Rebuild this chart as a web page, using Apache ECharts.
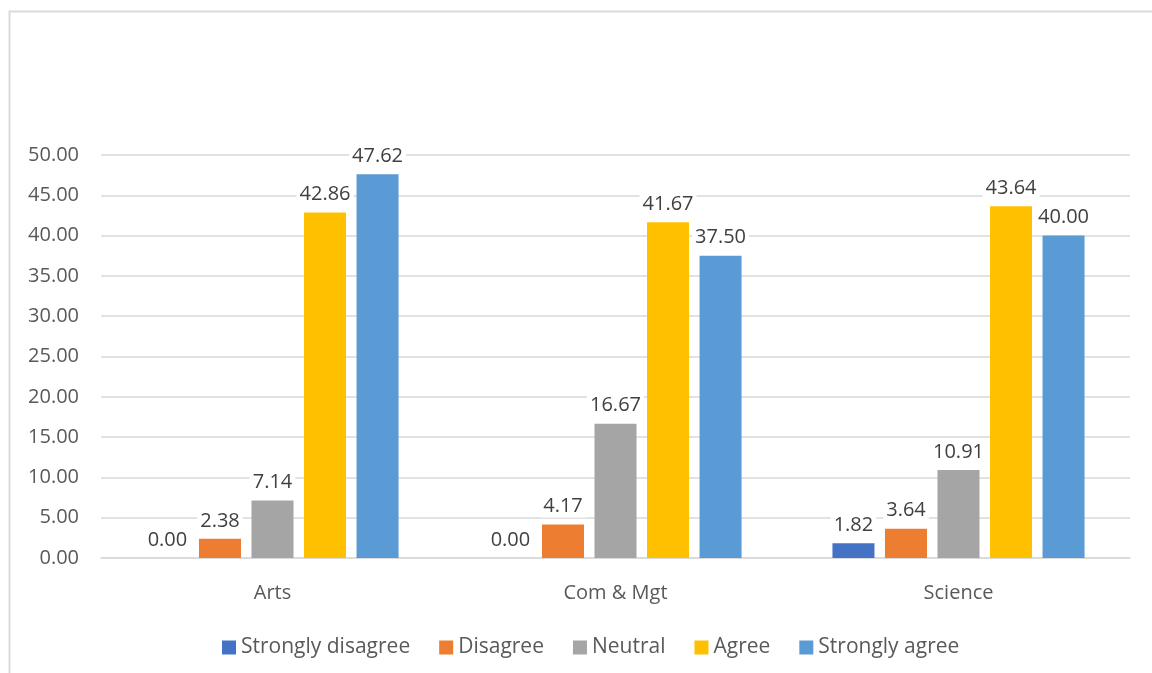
<!DOCTYPE html>
<html><head><meta charset="utf-8">
<script src="https://cdn.jsdelivr.net/npm/echarts@6/dist/echarts.min.js"></script>
<style>html,body{margin:0;padding:0;background:#fff}#c{width:1152px;height:673px}</style>
</head><body><div id="c"></div>
<script>
const categories = ['Arts', 'Com & Mgt', 'Science'];
const seriesNames = ['Strongly disagree', 'Disagree', 'Neutral', 'Agree', 'Strongly agree'];
const stronglyDisagree = [0.00, 0.00, 1.82];
const disagree = [2.38, 4.17, 3.64];
const neutral = [7.14, 16.67, 10.91];
const agree = [42.86, 41.67, 43.64];
const stronglyAgree = [47.62, 37.50, 40.00];
const colors = ['#4472C4', '#ED7D31', '#A5A5A5', '#FFC000', '#5B9BD5'];
const allValues = [stronglyDisagree, disagree, neutral, agree, stronglyAgree];

const font = 'Open Sans, Liberation Sans, sans-serif';
const chart = echarts.init(document.getElementById('c'));
chart.setOption({
  animation: false,
  color: colors,
  graphic: [{
    type: 'rect', left: 7, top: 9, shape: { width: 1200, height: 700 },
    style: { fill: 'none', stroke: '#d9d9d9', lineWidth: 2 }, silent: true, z: -10
  }],
  grid: { left: 101, right: 22, top: 155, bottom: 115, containLabel: false },
  legend: {
    bottom: 10, left: 217, itemWidth: 14, itemHeight: 14, itemGap: 29,
    icon: 'rect',
    textStyle: { fontFamily: font, fontSize: 21, color: '#595959' },
    data: seriesNames
  },
  xAxis: {
    type: 'category', data: categories,
    axisLine: { lineStyle: { color: '#d9d9d9', width: 1.5 } },
    axisTick: { show: false },
    axisLabel: { fontFamily: font, fontSize: 20, color: '#595959', margin: 25 }
  },
  yAxis: {
    type: 'value', min: 0, max: 50, interval: 5,
    axisLine: { show: false }, axisTick: { show: false },
    splitLine: { lineStyle: { color: '#d9d9d9', width: 1.5 } },
    axisLabel: { fontFamily: font, fontSize: 20, color: '#595959', margin: 22,
      formatter: v => v.toFixed(2) }
  },
  series: seriesNames.map((n, i) => ({
    name: n, type: 'bar', data: allValues[i],
    barGap: '25%', barCategoryGap: '26.5%',
    label: {
      show: true, position: 'top', distance: 7,
      fontFamily: font, fontSize: 20, color: '#404040',
      backgroundColor: '#ffffff', padding: [1, 3],
      formatter: p => p.value.toFixed(2)
    }
  }))
});
</script></body></html>
